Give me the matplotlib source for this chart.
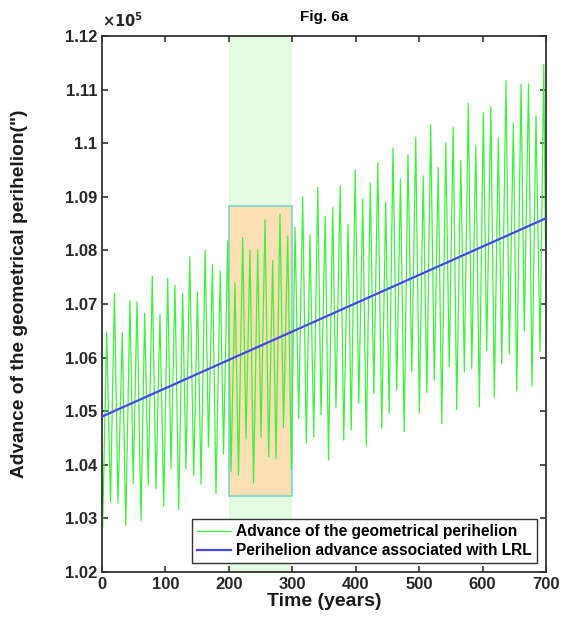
import numpy as np
import matplotlib
matplotlib.use("Agg")
import matplotlib.pyplot as plt
from matplotlib.patches import Rectangle
from matplotlib.ticker import FuncFormatter, MultipleLocator

plt.rcParams['font.family'] = ['Liberation Sans', 'DejaVu Sans']
plt.rcParams['font.weight'] = 'bold'

# Geometrical perihelion advance ("): local maxima and minima
peak_years = [7.4, 19.7, 32.0, 44.1, 55.2, 67.3, 79.3, 91.4, 103.6, 115.1,
              127.2, 138.3, 150.6, 162.7, 174.2, 186.4, 198.2, 209.7, 221.8, 233.3,
              245.5, 257.0, 269.1, 280.6, 292.8, 304.3, 316.4, 327.9, 340.1, 351.9,
              363.7, 375.5, 387.8, 399.2, 411.0, 423.0, 434.8, 447.3, 458.8, 470.6,
              482.4, 494.6, 506.4, 518.2, 530.1, 542.0, 553.7, 565.7, 577.5, 589.3,
              601.2, 613.0, 624.8, 636.9, 648.5, 660.6, 672.4, 684.2, 696.4]
peak_values = [106480, 107200, 106460, 107060, 107040, 106830, 107520, 106810, 107480, 107350,
               107190, 107880, 107220, 108000, 107740, 107620, 108180, 107390, 108240, 108000,
               108010, 108570, 107810, 108670, 108270, 108430, 109000, 108290, 109180, 108630,
               108800, 109200, 108490, 109500, 108960, 109260, 109630, 108900, 109910, 109340,
               109780, 110110, 109390, 110340, 109550, 110010, 110300, 109680, 110750, 109960,
               110570, 110680, 110100, 111170, 110380, 111100, 111110, 110510, 111470]

trough_years = [1.0, 13.4, 25.2, 37.4, 49.3, 61.5, 73.0, 85.1, 97.3, 108.8,
                120.9, 132.4, 144.6, 156.1, 167.9, 179.7, 191.6, 203.4, 215.2, 227.0,
                238.9, 250.7, 262.8, 274.3, 286.2, 298.5, 310.1, 322.1, 333.8, 345.3,
                357.1, 368.9, 381.1, 392.9, 404.9, 416.7, 428.5, 441.0, 452.8, 464.6,
                476.4, 488.4, 500.3, 512.1, 523.9, 535.6, 547.4, 559.2, 571.2, 582.9,
                594.9, 606.5, 618.5, 630.2, 642.2, 653.8, 665.8, 677.9, 690.6]
trough_values = [102820, 103310, 103290, 102870, 103650, 102960, 103620, 103550, 103230, 103930,
                 103160, 103920, 103810, 103640, 104330, 103460, 104200, 103870, 103810, 104480,
                 103660, 104520, 104150, 104110, 104700, 103910, 104870, 104410, 104520, 104930,
                 104090, 105060, 104460, 104650, 105150, 104350, 105330, 104680, 104960, 105400,
                 104620, 105740, 104970, 105350, 105580, 104770, 105830, 105030, 105740, 105800,
                 105080, 106130, 105260, 105890, 106070, 105380, 106500, 105470, 106110]

# first and last samples of the series
edge_years = [0.0, 700.0]
edge_values = [104180, 107070]

# perihelion advance associated with the LRL vector (straight trend)
lrl_years = [0, 700]
lrl_values = [104900, 108600]

# highlighted window
window_years = [200, 300]
window_values = [103420, 108820]

years = np.array(edge_years + peak_years + trough_years)
values = np.array(edge_values + peak_values + trough_values)
order = np.argsort(years)
years, values = years[order], values[order]

fig = plt.figure(figsize=(5.65, 6.33), dpi=100)
ax = fig.add_axes([0.1805, 0.0964, 0.7859, 0.8467])

# shaded band and box
ax.axvspan(window_years[0], window_years[1], color='#e2fbe2', zorder=0, lw=0)
ax.add_patch(Rectangle((window_years[0], window_values[0]),
                       window_years[1] - window_years[0], window_values[1] - window_values[0],
                       facecolor='#fcdfb4', edgecolor='#7fd6c6', lw=1.2, zorder=1))

ax.plot(years, values, color='#40f040', lw=0.9, zorder=2,
        label='Advance of the geometrical perihelion')
ax.plot(lrl_years, lrl_values, color='#4545f5', lw=1.6, zorder=3,
        label='Perihelion advance associated with LRL')

ax.set_xlim(0, 700)
ax.set_ylim(102000, 112000)
ax.xaxis.set_major_locator(MultipleLocator(100))
ax.yaxis.set_major_locator(MultipleLocator(1000))
ax.yaxis.set_major_formatter(FuncFormatter(lambda v, p: f"{v / 1e5:g}"))

ax.tick_params(direction='in', top=True, right=True, length=4, width=1.2,
               labelsize=12, color='#333333', labelcolor='#262626')
for s in ax.spines.values():
    s.set_linewidth(1.3)
    s.set_color('#333333')
for lab in ax.get_xticklabels() + ax.get_yticklabels():
    lab.set_fontweight('bold')

ax.text(0.0, 1.012, r'$\times10^{5}$', transform=ax.transAxes,
        fontsize=10.5, color='#262626', ha='left', va='bottom')

ax.set_title('Fig. 6a', fontsize=11, fontweight='bold', pad=11)
ax.set_xlabel('Time (years)', fontsize=14, fontweight='bold', color='#1a1a1a', labelpad=1)
ax.set_ylabel('Advance of the geometrical perihelion(")', fontsize=13.8,
              fontweight='bold', color='#1a1a1a')
ax.yaxis.set_label_coords(-0.166, 0.52)

leg = ax.legend(loc='lower right', fontsize=11.2, frameon=True, fancybox=False,
                borderpad=0.3, handlelength=2.2, handletextpad=0.35, labelspacing=0.25,
                borderaxespad=0.6, edgecolor='#333333', framealpha=1.0)
leg.get_frame().set_linewidth(1.0)
for t in leg.get_texts():
    t.set_fontweight('bold')

fig.savefig('out.png', dpi=100)
